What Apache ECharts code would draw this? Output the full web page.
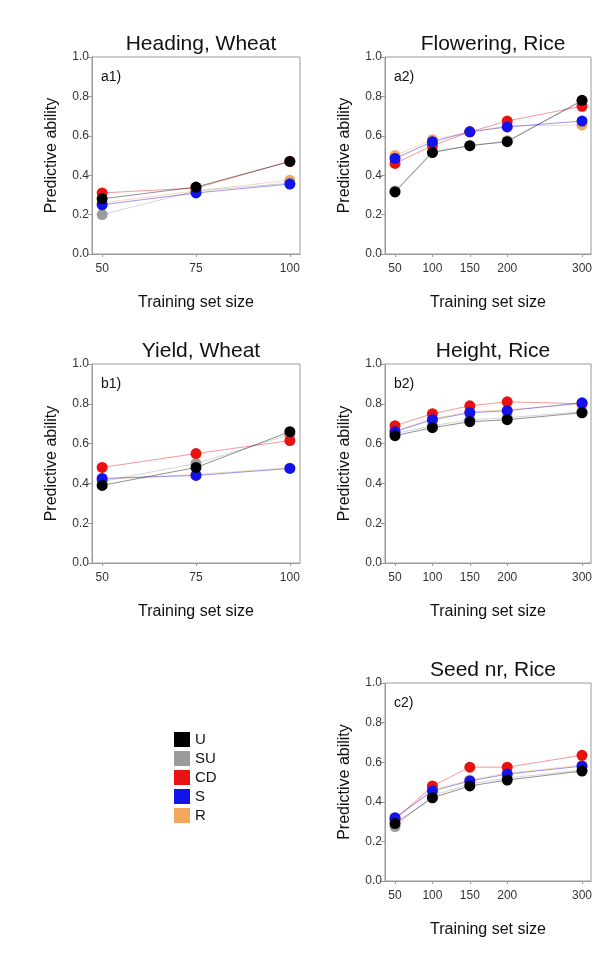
<!DOCTYPE html>
<html>
<head>
<meta charset="utf-8">
<script src="https://cdn.jsdelivr.net/npm/echarts@6/dist/echarts.min.js"></script>
<style>
html,body{margin:0;padding:0;background:#ffffff;}
#chart{width:613px;height:953px;}
</style>
</head>
<body>
<div id="chart"></div>
<script>
// ---- data ----
const seriesNames = ['U', 'SU', 'CD', 'S', 'R'];
const seriesColors = ['#000000', '#9c9c9c', '#e81212', '#1212ea', '#f3a85e'];
const wheatSizes = [50, 75, 100];
const riceSizes = [50, 100, 150, 200, 300];
const yTicks = [0.0, 0.2, 0.4, 0.6, 0.8, 1.0];

const panelTitles = ['Heading, Wheat', 'Flowering, Rice', 'Yield, Wheat', 'Height, Rice', 'Seed nr, Rice'];
const panelLabels = ['a1)', 'a2)', 'b1)', 'b2)', 'c2)'];

// Heading, Wheat (a1)
const a1_U  = [0.28, 0.34, 0.47];
const a1_SU = [0.20, 0.32, 0.36];
const a1_CD = [0.31, 0.335, 0.47];
const a1_S  = [0.25, 0.31, 0.355];
const a1_R  = [0.26, 0.32, 0.375];
// Flowering, Rice (a2)
const a2_U  = [0.315, 0.515, 0.55, 0.57, 0.78];
const a2_SU = [0.32, 0.52, 0.55, 0.575, 0.775];
const a2_CD = [0.46, 0.55, 0.62, 0.675, 0.75];
const a2_S  = [0.485, 0.57, 0.62, 0.645, 0.675];
const a2_R  = [0.50, 0.58, 0.62, 0.65, 0.655];
// Yield, Wheat (b1)
const b1_U  = [0.39, 0.48, 0.66];
const b1_SU = [0.41, 0.50, 0.645];
const b1_CD = [0.48, 0.55, 0.615];
const b1_S  = [0.425, 0.44, 0.475];
const b1_R  = [0.42, 0.445, 0.478];
// Height, Rice (b2)
const b2_U  = [0.64, 0.68, 0.71, 0.72, 0.755];
const b2_SU = [0.65, 0.69, 0.72, 0.73, 0.76];
const b2_CD = [0.69, 0.75, 0.79, 0.81, 0.80];
const b2_S  = [0.66, 0.72, 0.755, 0.765, 0.805];
const b2_R  = [0.665, 0.725, 0.76, 0.77, 0.80];
// Seed nr, Rice (c2)
const c2_U  = [0.29, 0.42, 0.48, 0.51, 0.555];
const c2_SU = [0.275, 0.43, 0.49, 0.52, 0.56];
const c2_CD = [0.31, 0.48, 0.575, 0.575, 0.635];
const c2_S  = [0.32, 0.455, 0.505, 0.54, 0.58];
const c2_R  = [0.315, 0.46, 0.51, 0.545, 0.585];

const panelData = [
  {sizes: wheatSizes, vals: {U: a1_U, SU: a1_SU, CD: a1_CD, S: a1_S, R: a1_R}},
  {sizes: riceSizes,  vals: {U: a2_U, SU: a2_SU, CD: a2_CD, S: a2_S, R: a2_R}},
  {sizes: wheatSizes, vals: {U: b1_U, SU: b1_SU, CD: b1_CD, S: b1_S, R: b1_R}},
  {sizes: riceSizes,  vals: {U: b2_U, SU: b2_SU, CD: b2_CD, S: b2_S, R: b2_R}},
  {sizes: riceSizes,  vals: {U: c2_U, SU: c2_SU, CD: c2_CD, S: c2_S, R: c2_R}}
];

// ---- layout ----
const layouts = [
  {left: 92,  top: 57,  width: 208, height: 197, xmin: 47.3, xmax: 102.7},
  {left: 385, top: 57,  width: 206, height: 197, xmin: 36.6, xmax: 312},
  {left: 92,  top: 364, width: 208, height: 199, xmin: 47.3, xmax: 102.7},
  {left: 385, top: 364, width: 206, height: 199, xmin: 36.6, xmax: 312},
  {left: 385, top: 683, width: 206, height: 198, xmin: 36.6, xmax: 312}
];
const FONT = 'Liberation Sans, Arial, sans-serif';

const grids = [], xAxes = [], yAxes = [], series = [], titles = [], graphics = [];
const drawOrder = ['R', 'SU', 'CD', 'S', 'U'];

layouts.forEach((L, i) => {
  grids.push({left: L.left, top: L.top, width: L.width, height: L.height,
    show: true, borderColor: '#9a9a9a', borderWidth: 1, backgroundColor: 'transparent'});
  const sizes = panelData[i].sizes;
  xAxes.push({type: 'value', gridIndex: i, min: L.xmin, max: L.xmax,
    name: 'Training set size', nameLocation: 'middle', nameGap: 41,
    nameTextStyle: {fontSize: 16, color: '#111', fontFamily: FONT},
    axisLine: {show: true, onZero: false, lineStyle: {color: '#9a9a9a'}},
    axisTick: {show: true, length: 3, customValues: sizes, lineStyle: {color: '#9a9a9a'}},
    axisLabel: {customValues: sizes, fontSize: 12, color: '#333', margin: 9, fontFamily: FONT},
    splitLine: {show: false}});
  yAxes.push({type: 'value', gridIndex: i, min: 0, max: 1, interval: 0.2,
    name: 'Predictive ability', nameLocation: 'middle', nameGap: 32, nameRotate: 90,
    nameTextStyle: {fontSize: 16, color: '#111', fontFamily: FONT},
    axisLine: {show: true, lineStyle: {color: '#9a9a9a'}},
    axisTick: {show: true, length: 4, lineStyle: {color: '#9a9a9a'}},
    axisLabel: {fontSize: 12, color: '#333', margin: 3, fontFamily: FONT,
      formatter: v => v.toFixed(1)},
    splitLine: {show: false}});
  titles.push({text: panelTitles[i], left: L.left + L.width / 2, top: L.top - 28,
    textAlign: 'center',
    textStyle: {fontSize: 21, fontWeight: 'normal', color: '#111', fontFamily: FONT}});
  graphics.push({type: 'text', left: L.left + 9, top: L.top + 13,
    style: {text: panelLabels[i], fontSize: 14, fill: '#111', fontFamily: FONT}});
  drawOrder.forEach(name => {
    const k = seriesNames.indexOf(name);
    const vals = panelData[i].vals[name];
    series.push({type: 'line', name: name, xAxisIndex: i, yAxisIndex: i,
      data: sizes.map((s, j) => [s, vals[j]]),
      symbol: 'circle', symbolSize: 11,
      itemStyle: {color: seriesColors[k]},
      lineStyle: {color: seriesColors[k], width: 0.8, opacity: 0.55},
      emphasis: {disabled: true}, silent: true});
  });
});

const chart = echarts.init(document.getElementById('chart'), null, {renderer: 'canvas'});
chart.setOption({
  animation: false,
  backgroundColor: '#ffffff',
  title: titles,
  grid: grids,
  xAxis: xAxes,
  yAxis: yAxes,
  legend: {data: seriesNames, orient: 'vertical', left: 174, top: 732, padding: 0,
    icon: 'rect', itemWidth: 16, itemHeight: 15, itemGap: 4,
    textStyle: {fontSize: 15, color: '#111', fontFamily: FONT},
    selectedMode: false},
  graphic: graphics,
  series: series
});
</script>
</body>
</html>
